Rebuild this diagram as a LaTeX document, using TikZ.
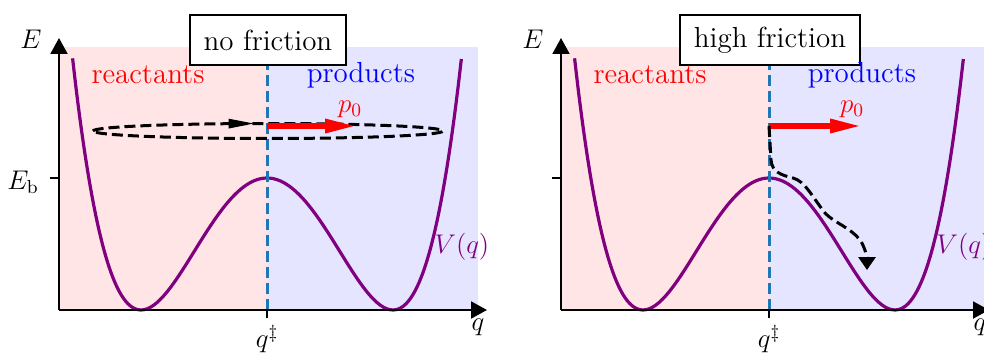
\RequirePackage{fix-cm}
\documentclass[tikz,border=0pt]{standalone}
\usepackage{fontspec}
\usepackage{tikz}
\usetikzlibrary{arrows.meta, decorations.markings}
\usepackage{amsmath}
\usepackage{xcolor}
\definecolor{wellpurple}{HTML}{800080}
\definecolor{tsblue}{HTML}{1F77B4}
\definecolor{reactpink}{HTML}{FFE5E5}
\definecolor{prodblue}{HTML}{E5E5FF}

\begin{document}
\begin{tikzpicture}[
    x=0.5pt, y=0.5pt,
    every node/.style={font=\fontsize{13.5}{15}\selectfont},
    axis/.style={line width=1pt, -{Triangle[length=8pt, width=8.5pt]}},
    tickmark/.style={line width=1pt},
    well/.style={wellpurple, line width=1.6pt, line join=round},
    divider/.style={tsblue, line width=1.5pt, dash pattern=on 5.5pt off 2.5pt},
    momentum/.style={red, line width=3pt, -{Triangle[length=16pt, width=6.5pt]}},
    traj/.style={black, line width=1.5pt, dash pattern=on 5.5pt off 2.5pt},
    titlebox/.style={draw, fill=white, line width=1.2pt, inner xsep=7pt, minimum height=25pt, font=\fontsize{14.5}{17}\selectfont},
    region/.style={font=\fontsize{14.5}{17}\selectfont}
]
    \useasboundingbox (-59,-44) rectangle (925,310);

    % Left panel: no friction
    \fill[reactpink] (0,0) rectangle (208,263);
    \fill[prodblue] (208,0) rectangle (419,263);
    \draw[well] plot[domain=-1.543:1.543, samples=121, smooth] ({208+126*\x}, {132*(\x*\x-1)*(\x*\x-1)});
    \draw[divider] (208,0) -- (208,263);
    \coordinate (o1) at (0,0);
    \coordinate (ytop1) at (0,272);
    \coordinate (xend1) at (428,0);
    \draw[axis] (o1) -- (ytop1);
    \draw[axis] (o1) -- (xend1);
    \draw[tickmark] (208,0) -- (208,-8);
    \draw[tickmark] (0,132) -- (-9,132);
    \coordinate (ts1) at (208,184);
    \coordinate (kick1) at (298,184);
    \coordinate (orbit) at (209,179);
    \draw[traj, postaction={decorate}, decoration={markings, mark=at position 0.231 with {\arrow{Triangle[length=13pt, width=4.5pt]}}}]
        (orbit) ++(-175,0) arc[start angle=180, end angle=-180, x radius=175, y radius=7.5];
    \draw[momentum] (ts1) -- (kick1);
    \node[titlebox] (title1) at (209,270) {no friction};
    \node[region, red] (react1) at (89,235) {reactants};
    \node[region, blue] (prod1) at (302,235) {products};
    \node[red] (plab1) at (291,201) {$p_0$};
    \node[wellpurple] (V1) at (403,63) {$V(q)$};
    \node (E1) at (-28,271) {$E$};
    \node (Eb1) at (-36,128) {$E_{\mathrm{b}}$};
    \node (qts1) at (208,-29) {$q^{\ddagger}$};
    \node (q1) at (419,-17) {$q$};

    % Right panel: high friction
    \begin{scope}[shift={(502,0)}]
    \fill[reactpink] (0,0) rectangle (208,263);
    \fill[prodblue] (208,0) rectangle (425,263);
    \draw[well] plot[domain=-1.543:1.543, samples=121, smooth] ({208+126*\x}, {132*(\x*\x-1)*(\x*\x-1)});
    \draw[divider] (208,0) -- (208,263);
    \coordinate (o2) at (0,0);
    \coordinate (ytop2) at (0,272);
    \coordinate (xend2) at (428,0);
    \draw[axis] (o2) -- (ytop2);
    \draw[axis] (o2) -- (xend2);
    \draw[tickmark] (208,0) -- (208,-8);
    \draw[tickmark] (0,132) -- (-9,132);
    \coordinate (ts2) at (208,184);
    \coordinate (kick2) at (301,184);
    \coordinate (relax2) at (306,40);
    \draw[momentum] (ts2) -- (kick2);
    \draw[traj, -{Triangle[length=6.5pt, width=8.5pt]}] (ts2) -- (210,150)
        .. controls (211,138) and (220,135) .. (232,132)
        .. controls (244,129) and (252,112) .. (264,97)
        .. controls (272,88) and (290,82) .. (299,70)
        .. controls (304,63) and (306,52) .. (relax2);
    \node[titlebox] (title2) at (209,270) {high friction};
    \node[region, red] (react2) at (89,235) {reactants};
    \node[region, blue] (prod2) at (301,235) {products};
    \node[red] (plab2) at (291,201) {$p_0$};
    \node[wellpurple] (V2) at (403,63) {$V(q)$};
    \node (E2) at (-28,271) {$E$};
    \node (qts2) at (208,-29) {$q^{\ddagger}$};
    \node (q2) at (419,-17) {$q$};
    \end{scope}
\end{tikzpicture}
\end{document}
